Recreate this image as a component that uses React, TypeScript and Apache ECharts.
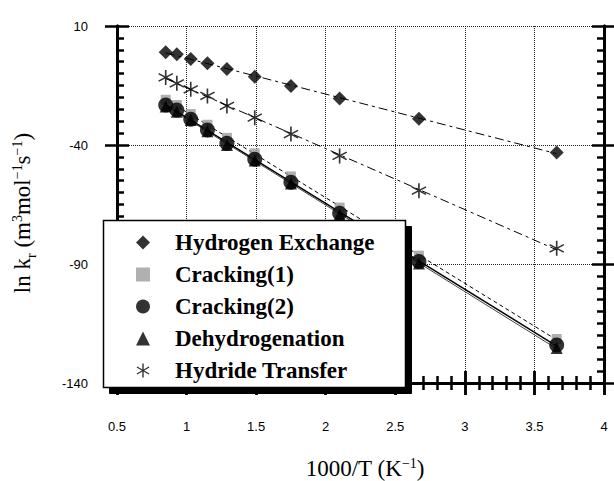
import React, { useEffect, useRef } from "react";
import * as echarts from "echarts";

// ---- data ----
const xValues = [0.85, 0.93, 1.03, 1.15, 1.29, 1.49, 1.75, 2.1, 2.67, 3.66];
const hydrogenExchange = [-1.0, -1.9, -3.9, -5.7, -8.1, -11.3, -15.2, -20.5, -29.0, -43.1];
const cracking1 = [-21.0, -23.2, -27.0, -31.5, -37.0, -43.5, -53.2, -66.3, -86.5, -121.5];
const cracking2 = [-23.2, -25.3, -29.2, -33.7, -39.3, -46.0, -55.7, -68.7, -89.0, -124.0];
const dehydrogenation = [-23.8, -26.0, -29.5, -34.2, -40.0, -46.5, -56.2, -69.3, -89.8, -125.3];
const hydrideTransfer = [-11.6, -14.1, -16.6, -19.4, -23.6, -28.5, -35.4, -44.6, -59.2, -83.4];
const seriesNames = [
  "Hydrogen Exchange",
  "Cracking(1)",
  "Cracking(2)",
  "Dehydrogenation",
  "Hydride Transfer",
];
const xTicks = { min: 0.5, max: 4, interval: 0.5 };
const yTicks = { min: -140, max: 10, interval: 50 };

const Y0 = yTicks.min; // axis is shifted so ticks start at -140

const ASTERISK =
  "path://M9,0 L11,0 L11,20 L9,20 Z M0.84,5.87 L1.84,4.13 L19.16,14.13 L18.16,15.87 Z M1.84,15.87 L0.84,14.13 L18.16,4.13 L19.16,5.87 Z";

function fit(xs: number[], ys: number[]) {
  const n = xs.length;
  const mx = xs.reduce((a, b) => a + b, 0) / n;
  const my = ys.reduce((a, b) => a + b, 0) / n;
  let sxy = 0;
  let sxx = 0;
  for (let i = 0; i < n; i++) {
    sxy += (xs[i] - mx) * (ys[i] - my);
    sxx += (xs[i] - mx) * (xs[i] - mx);
  }
  const b = sxy / sxx;
  const a = my - b * mx;
  const x0 = xs[0];
  const x1 = xs[n - 1];
  return [
    [x0, a + b * x0 - Y0],
    [x1, a + b * x1 - Y0],
  ];
}

const pts = (ys: number[]) => xValues.map((x, i) => [x, ys[i] - Y0]);

export default function App() {
  const ref = useRef<HTMLDivElement>(null);
  useEffect(() => {
    if (!ref.current) return;
    const chart = echarts.init(ref.current, null, { renderer: "svg" });
    const black = "#000000";
    const axisLine = { show: true, lineStyle: { color: black, width: 3 } };
    const tickStyle = { color: black, width: 2.5 };
    const baseX = { type: "value", min: xTicks.min, max: xTicks.max, interval: xTicks.interval };
    const baseY = { type: "value", min: 0, max: yTicks.max - yTicks.min, interval: yTicks.interval };
    const outer = (extra: any) => ({
      axisLine,
      axisTick: { show: true, inside: false, length: 12, lineStyle: tickStyle },
      splitLine: { show: false },
      ...extra,
    });
    const inner = (extra: any, minorSplit: number) => ({
      axisLine,
      axisTick: { show: true, inside: true, length: 12, lineStyle: tickStyle },
      minorTick: { show: true, splitNumber: minorSplit, length: 7, lineStyle: tickStyle },
      axisLabel: { show: false },
      ...extra,
    });
    const grid = { type: "dotted", color: "#222", width: 1 };
    const labelFont = { fontFamily: "Liberation Sans", fontSize: 13, color: black };

    const lineSeries = (ys: number[], style: any) => ({
      type: "line",
      data: fit(xValues, ys),
      showSymbol: false,
      symbol: "none",
      silent: true,
      lineStyle: style,
      z: 1,
    });

    // legend box geometry
    const bx = 103.5;
    const by = 220.5;
    const bw = 302;
    const bh = 167;
    const sh = 6;

    chart.setOption({
      animation: false,
      backgroundColor: "#fff",
      grid: { left: 117, right: 10, top: 26, bottom: 98, containLabel: false },
      xAxis: [
        { ...baseX, position: "bottom", ...outer({ axisLabel: { ...labelFont, margin: 37 } }) },
        { ...baseX, position: "bottom", ...inner({ splitLine: { show: true, lineStyle: grid } }, 5) },
        { ...baseX, position: "top", ...outer({ axisLabel: { show: false } }) },
        { ...baseX, position: "top", ...inner({ splitLine: { show: false } }, 5) },
      ],
      yAxis: [
        {
          ...baseY,
          position: "left",
          ...outer({
            axisLabel: { ...labelFont, margin: 29, formatter: (v: number) => String(v + Y0) },
          }),
        },
        { ...baseY, position: "left", ...inner({ splitLine: { show: true, lineStyle: grid } }, 10) },
        { ...baseY, position: "right", ...outer({ axisLabel: { show: false } }) },
        { ...baseY, position: "right", ...inner({ splitLine: { show: false } }, 10) },
      ],
      legend: {
        orient: "vertical",
        left: 103,
        top: 220,
        padding: [11, 30, 5, 33],
        itemWidth: 14,
        itemHeight: 14,
        itemGap: 9,
        symbolKeepAspect: true,
        backgroundColor: "transparent",
        borderWidth: 0,
        textStyle: {
          fontFamily: "Liberation Serif",
          fontWeight: "bold",
          fontSize: 23,
          lineHeight: 23,
          color: black,
          padding: [0, 0, 0, 20],
        },
        data: [
          { name: seriesNames[0], icon: "diamond" },
          { name: seriesNames[1], icon: "rect" },
          { name: seriesNames[2], icon: "circle" },
          { name: seriesNames[3], icon: "triangle" },
          { name: seriesNames[4], icon: ASTERISK },
        ],
        z: 20,
      },
      series: [
        lineSeries(hydrogenExchange, { color: black, width: 1, type: [9, 4, 3, 4] }),
        lineSeries(cracking1, { color: black, width: 1, type: [4, 3] }),
        lineSeries(cracking2, { color: black, width: 1.5, type: "solid" }),
        lineSeries(dehydrogenation, { color: "#444", width: 1, type: "solid" }),
        lineSeries(hydrideTransfer, { color: black, width: 1, type: [9, 4, 3, 4] }),
        {
          name: seriesNames[0],
          type: "scatter",
          data: pts(hydrogenExchange),
          symbol: "diamond",
          symbolSize: 14,
          itemStyle: { color: black },
          z: 3,
        },
        {
          name: seriesNames[1],
          type: "scatter",
          data: pts(cracking1),
          symbol: "rect",
          symbolSize: 10,
          itemStyle: { color: "#9c9c9c" },
          z: 3,
        },
        {
          name: seriesNames[2],
          type: "scatter",
          data: pts(cracking2),
          symbol: "circle",
          symbolSize: 15,
          itemStyle: { color: black },
          z: 3,
        },
        {
          name: seriesNames[3],
          type: "scatter",
          data: pts(dehydrogenation),
          symbol: "triangle",
          symbolSize: 12,
          itemStyle: { color: black },
          z: 3,
        },
        {
          name: seriesNames[4],
          type: "scatter",
          data: pts(hydrideTransfer),
          symbol: ASTERISK,
          symbolSize: 15,
          itemStyle: { color: black },
          z: 3,
        },
      ],
      graphic: {
        elements: [
          {
            type: "rect",
            z: 11,
            silent: true,
            shape: { x: bx, y: by, width: bw, height: bh },
            style: { fill: "#fff", stroke: black, lineWidth: 1.5 },
          },
          {
            type: "polygon",
            z: 12,
            silent: true,
            shape: {
              points: [
                [bx + bw, by + sh],
                [bx + bw + sh, by + sh],
                [bx + bw + sh, by + bh + sh],
                [bx + sh, by + bh + sh],
                [bx + sh, by + bh],
                [bx + bw, by + bh],
              ],
            },
            style: { fill: black, stroke: black, lineWidth: 1 },
          },
          {
            type: "text",
            x: 365,
            y: 468,
            style: {
              text: "{a|1000/T (K}{s|−1}{a|)}",
              align: "center",
              verticalAlign: "middle",
              rich: {
                a: { fontFamily: "Liberation Serif", fontSize: 23, lineHeight: 24, fill: black },
                s: { fontFamily: "Liberation Serif", fontSize: 14, lineHeight: 14, verticalAlign: "top", fill: black },
              },
            },
          },
          {
            type: "text",
            x: 22,
            y: 213,
            rotation: Math.PI / 2,
            style: {
              text: "{a|ln k}{b|r}{a| (m}{s|3}{a|mol}{s|−1}{a|s}{s|−1}{a|)}",
              align: "center",
              verticalAlign: "middle",
              rich: {
                a: { fontFamily: "Liberation Serif", fontSize: 23, lineHeight: 24, fill: black },
                s: { fontFamily: "Liberation Serif", fontSize: 14, lineHeight: 14, verticalAlign: "top", fill: black },
                b: { fontFamily: "Liberation Serif", fontSize: 14, lineHeight: 14, verticalAlign: "bottom", fill: black, padding: [0, 0, -4, 0] },
              },
            },
          },
        ],
      },
    });
    return () => chart.dispose();
  }, []);
  return <div ref={ref} style={{ width: 614, height: 481, position: "absolute", left: 0, top: 0 }} />;
}
